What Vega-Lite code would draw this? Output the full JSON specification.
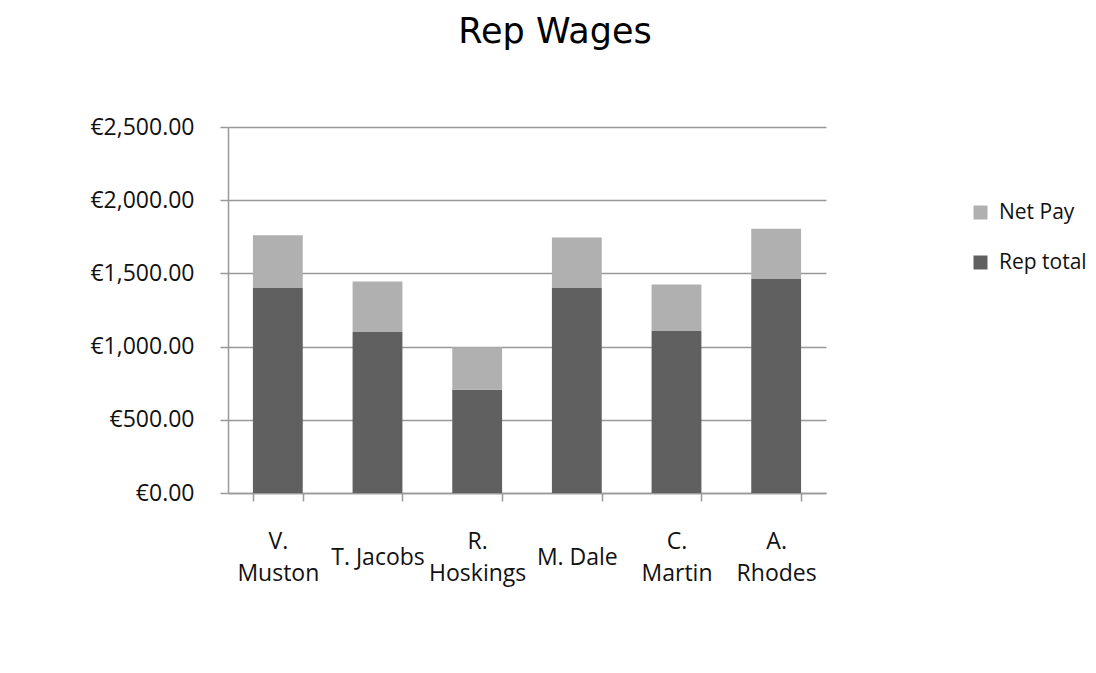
{
  "$schema": "https://vega.github.io/schema/vega-lite/v6.json",
  "width": 598,
  "height": 366,
  "autosize": {"type": "none"},
  "padding": {"left": 228, "top": 127, "right": 270, "bottom": 180},
  "background": "white",
  "title": {"text": "Rep Wages", "font": "DejaVu Sans", "fontSize": 35, "fontWeight": "normal", "color": "#000000", "anchor": "middle", "dx": 28, "offset": 66},
  "data": {"values": [
    {"rep": "V. Muston", "series": "Rep total", "amount": 1400},
    {"rep": "V. Muston", "series": "Net Pay", "amount": 360},
    {"rep": "T. Jacobs", "series": "Rep total", "amount": 1100},
    {"rep": "T. Jacobs", "series": "Net Pay", "amount": 345},
    {"rep": "R. Hoskings", "series": "Rep total", "amount": 705},
    {"rep": "R. Hoskings", "series": "Net Pay", "amount": 290},
    {"rep": "M. Dale", "series": "Rep total", "amount": 1400},
    {"rep": "M. Dale", "series": "Net Pay", "amount": 345},
    {"rep": "C. Martin", "series": "Rep total", "amount": 1110},
    {"rep": "C. Martin", "series": "Net Pay", "amount": 315},
    {"rep": "A. Rhodes", "series": "Rep total", "amount": 1465},
    {"rep": "A. Rhodes", "series": "Net Pay", "amount": 340}
  ]},
  "mark": {"type": "bar"},
  "encoding": {
    "x": {
      "field": "rep", "type": "nominal", "sort": null,
      "scale": {"paddingInner": 0.5, "paddingOuter": 0.25},
      "axis": {
        "title": null, "labelAngle": 0, "labelFont": "Open Sans", "labelFontSize": 23, "labelColor": "#111111",
        "labelBaseline": "middle", "labelLineHeight": 32,
        "labelPadding": {"condition": {"test": "indexof(['T. Jacobs', 'M. Dale'], datum.label) >= 0", "value": 56}, "value": 40},
        "labelExpr": "indexof(['T. Jacobs', 'M. Dale'], datum.label) >= 0 ? datum.label : split(datum.label, ' ')",
        "domainColor": "#999999", "domainWidth": 1.5, "tickColor": "#999999", "tickWidth": 1.5, "tickSize": 8, "tickBand": "extent"
      }
    },
    "y": {
      "field": "amount", "type": "quantitative", "stack": "zero",
      "scale": {"domain": [0, 2500]},
      "axis": {
        "title": null, "values": [0, 500, 1000, 1500, 2000, 2500],
        "labelExpr": "'€' + format(datum.value, ',.2f')",
        "labelFont": "Open Sans", "labelFontSize": 23, "labelColor": "#111111", "labelPadding": 26,
        "tickSize": 8, "tickColor": "#999999", "tickWidth": 1.5,
        "domainColor": "#999999", "domainWidth": 1.5,
        "gridColor": "#999999", "gridWidth": 1.5
      }
    },
    "color": {
      "field": "series", "type": "nominal",
      "scale": {"domain": ["Net Pay", "Rep total"], "range": ["#b0b0b0", "#606060"]},
      "legend": {
        "title": null, "orient": "none", "legendX": 742, "legendY": 75,
        "symbolType": "square", "symbolSize": 196, "symbolStrokeWidth": 0,
        "labelFont": "Open Sans", "labelFontSize": 21, "labelColor": "#111111", "labelOffset": 8, "rowPadding": 28, "labelLimit": 200
      }
    },
    "order": {"field": "series", "sort": "descending"}
  },
  "config": {"view": {"stroke": null}, "font": "Open Sans"}
}
